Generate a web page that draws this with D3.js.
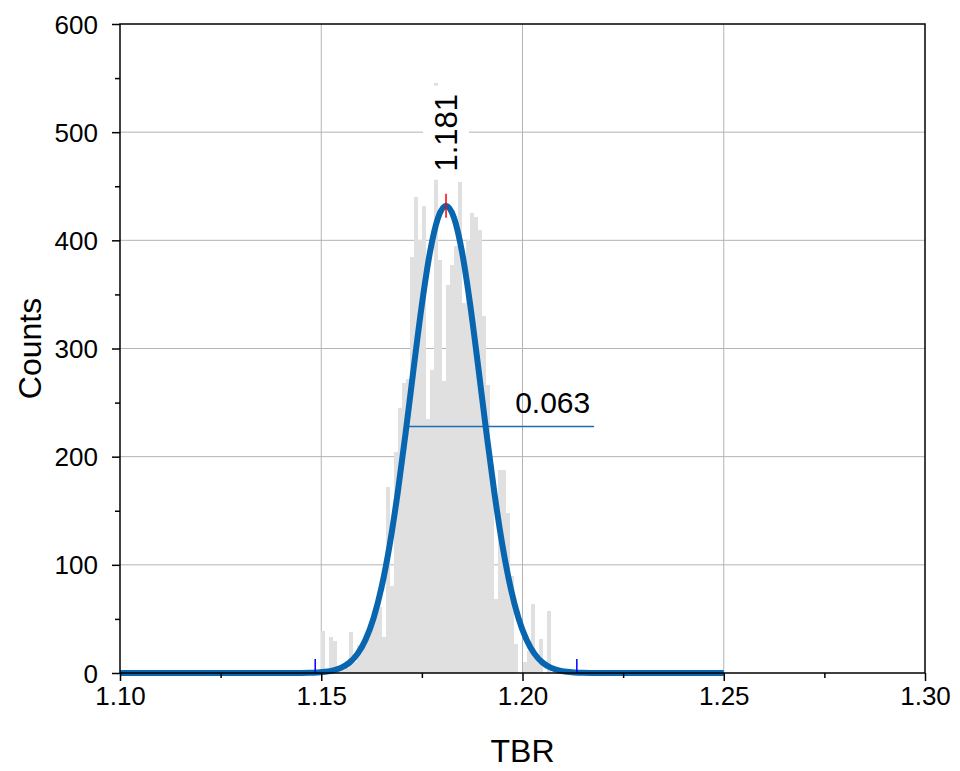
<!DOCTYPE html>
<html>
<head>
<meta charset="utf-8">
<script src="https://cdn.jsdelivr.net/npm/d3@7"></script>
<style>
  html, body { margin: 0; padding: 0; background: #fff; }
  svg { display: block; font-family: "Liberation Sans", Arial, sans-serif; }
</style>
</head>
<body>
<svg id="chart" width="960" height="771"></svg>
<script>
// ---------- data ----------
const binStart = 1.150;
const binWidth = 0.001;
const binCounts = [39, 0, 33, 30, 2, 3, 5, 38, 10, 26, 26, 35, 45, 61, 61, 33, 172, 80, 204, 245,
                   268, 272, 385, 440, 400, 432, 235, 280, 545, 382, 270, 359, 377, 395, 454, 342, 400, 425, 422, 410,
                   330, 266, 192, 68, 188, 188, 148, 90, 27, 0, 10, 20, 64, 15, 31, 0, 57];
const fitX = [1.100, 1.145, 1.147, 1.149, 1.151, 1.153, 1.155, 1.157, 1.159, 1.161, 1.163, 1.165, 1.167, 1.169,
              1.171, 1.173, 1.175, 1.177, 1.179, 1.181, 1.183, 1.185, 1.187, 1.189, 1.191, 1.193, 1.195,
              1.197, 1.199, 1.201, 1.203, 1.205, 1.207, 1.209, 1.211, 1.213, 1.215, 1.217, 1.250];
const fitY = [0, 0.1, 0.2, 0.5, 1.1, 2.4, 5.0, 9.6, 17.7, 30.8, 50.8, 79.6, 118.4, 166.9,
              223.1, 283.0, 340.6, 388.7, 420.7, 432, 420.7, 388.7, 340.6, 283.0, 223.1, 166.9, 118.4,
              79.6, 50.8, 30.8, 17.7, 9.6, 5.0, 2.4, 1.1, 0.5, 0.2, 0.1, 0];
const peakX = 1.181, peakY = 432, peakLabel = "1.181";
const widthLineX = [1.1708, 1.2178], widthLineY = 228, widthLabel = "0.063";
const boundX = [1.1485, 1.2135];
const xTicks = [1.10, 1.15, 1.20, 1.25, 1.30];
const xMinor = [1.125, 1.175, 1.225, 1.275];
const yTicks = [0, 100, 200, 300, 400, 500, 600];
const yMinor = [50, 150, 250, 350, 450, 550];
const xTitle = "TBR", yTitle = "Counts";

// ---------- layout ----------
const svg = d3.select("#chart");
const L = 120, R = 925, T = 24, B = 673;
const x = d3.scaleLinear().domain([1.10, 1.30]).range([L, R]);
const y = d3.scaleLinear().domain([0, 600]).range([B, T]);

// grid
const g = svg.append("g");
g.selectAll("line.vg").data(xTicks.slice(1, -1)).join("line")
  .attr("x1", d => x(d)).attr("x2", d => x(d)).attr("y1", T).attr("y2", B)
  .attr("stroke", "#b4b4b4").attr("stroke-width", 1);
g.selectAll("line.hg").data(yTicks.slice(1, -1)).join("line")
  .attr("y1", d => y(d)).attr("y2", d => y(d)).attr("x1", L).attr("x2", R)
  .attr("stroke", "#b4b4b4").attr("stroke-width", 1);

// histogram bars
const bins = binCounts.map((c, i) => ({ x0: binStart + i * binWidth, x1: binStart + (i + 1) * binWidth, c }));
svg.append("g").selectAll("rect").data(bins).join("rect")
  .attr("x", d => x(d.x0))
  .attr("width", d => x(d.x1) - x(d.x0))
  .attr("y", d => y(d.c))
  .attr("height", d => y(0) - y(d.c))
  .attr("fill", "#e0e0e0")
  .attr("shape-rendering", "crispEdges");

// label box for peak value
const lbl = svg.append("g").attr("transform", `translate(${x(peakX)},${y(peakY) - 73}) rotate(-90)`);
lbl.append("rect").attr("x", -47).attr("y", -23).attr("width", 94).attr("height", 46).attr("fill", "#fff");
lbl.append("text").attr("text-anchor", "middle").attr("dy", "0.36em")
  .attr("font-size", 31).attr("fill", "#000").text(peakLabel);

// width line + label
svg.append("line")
  .attr("x1", x(widthLineX[0])).attr("x2", x(widthLineX[1]))
  .attr("y1", y(widthLineY)).attr("y2", y(widthLineY))
  .attr("stroke", "#1a6fb8").attr("stroke-width", 1.5);
svg.append("text")
  .attr("x", x(1.2075)).attr("y", y(widthLineY) - 13)
  .attr("text-anchor", "middle").attr("font-size", 30).text(widthLabel);

// fit curve
const line = d3.line().x((d, i) => x(fitX[i])).y(d => y(d)).curve(d3.curveMonotoneX);
svg.append("path").datum(fitY).attr("d", line)
  .attr("fill", "none").attr("stroke", "#0866b0").attr("stroke-width", 6).attr("stroke-linejoin", "round");

// peak marker (red)
svg.append("line").attr("x1", x(peakX)).attr("x2", x(peakX))
  .attr("y1", y(peakY) - 12).attr("y2", y(peakY) + 12)
  .attr("stroke", "#ff0000").attr("stroke-width", 1.5);
// bound markers (blue)
svg.selectAll("line.bd").data(boundX).join("line")
  .attr("x1", d => x(d)).attr("x2", d => x(d))
  .attr("y1", y(0)).attr("y2", y(0) - 14)
  .attr("stroke", "#0000ff").attr("stroke-width", 1.5);

// axes
const axX = svg.append("g").attr("transform", `translate(0,${B})`)
  .call(d3.axisBottom(x).tickValues(xTicks).tickFormat(d3.format(".2f")).tickSize(8).tickSizeOuter(0));
const axXm = svg.append("g").attr("transform", `translate(0,${B})`)
  .call(d3.axisBottom(x).tickValues(xMinor).tickFormat("").tickSize(5).tickSizeOuter(0));
const axY = svg.append("g").attr("transform", `translate(${L},0)`)
  .call(d3.axisLeft(y).tickValues(yTicks).tickSize(8).tickSizeOuter(0));
const axYm = svg.append("g").attr("transform", `translate(${L},0)`)
  .call(d3.axisLeft(y).tickValues(yMinor).tickFormat("").tickSize(5).tickSizeOuter(0));
[axX, axXm, axY, axYm].forEach(a => {
  a.select(".domain").remove();
  a.selectAll(".tick line").attr("stroke", "#000").attr("stroke-width", 1.5);
  a.selectAll("text").attr("font-size", 26).attr("fill", "#000").attr("font-family", "Liberation Sans, Arial, sans-serif");
});
axX.selectAll("text").attr("dy", "0.9em").attr("y", 9);
axY.selectAll("text").attr("x", -22).attr("dy", "0.35em");

// frame
svg.append("rect").attr("x", L).attr("y", T).attr("width", R - L).attr("height", B - T)
  .attr("fill", "none").attr("stroke", "#000").attr("stroke-width", 1.5);

// titles
svg.append("text").attr("x", (L + R) / 2).attr("y", 762).attr("text-anchor", "middle")
  .attr("font-size", 32).text(xTitle);
svg.append("text").attr("transform", `translate(41,${(T + B) / 2}) rotate(-90)`)
  .attr("text-anchor", "middle").attr("font-size", 32).text(yTitle);
</script>
</body>
</html>
